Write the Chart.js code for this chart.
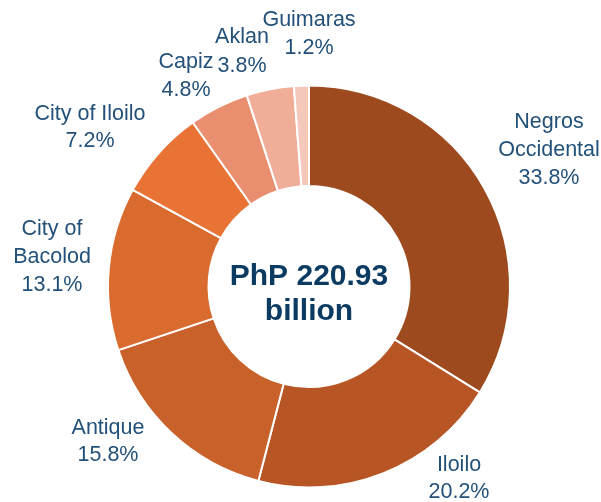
<!DOCTYPE html>
<html>
<head>
<meta charset="utf-8">
<script src="https://cdn.jsdelivr.net/npm/chart.js@4/dist/chart.umd.min.js"></script>
<style>
  html, body { margin: 0; padding: 0; background: #ffffff; }
  #wrap { width: 601px; height: 502px; position: relative; }
</style>
</head>
<body>
<div id="wrap"><canvas id="c" width="601" height="502"></canvas></div>
<script>
// ---- data ----
const categories = ["Negros Occidental", "Iloilo", "Antique", "City of Bacolod", "City of Iloilo", "Capiz", "Aklan", "Guimaras"];
const shares = [33.8, 20.2, 15.8, 13.1, 7.2, 4.8, 3.8, 1.2];
const labelLines = [["Negros", "Occidental"], ["Iloilo"], ["Antique"], ["City of", "Bacolod"], ["City of Iloilo"], ["Capiz"], ["Aklan"], ["Guimaras"]];
const centerText = ["PhP 220.93", "billion"];

// ---- styles / layout ----
const sliceColors = ["#9E4A1F", "#B75624", "#C9612B", "#D96B2E", "#E87335", "#E98F6F", "#F0AD98", "#F5C8BC"];
// label anchors: offset (px) of first text line centre from the doughnut centre
const labelOffsets = [[240, -164], [150, 179], [-201, 142], [-257, -57], [-219, -172], [-123, -224], [-67, -249], [0, -266]];
const lineHeights = [28, 27, 27, 28, 27, 28, 29, 28];

const labelPlugin = {
  id: 'labels',
  afterDraw(chart) {
    const ctx = chart.ctx;
    const arc = chart.getDatasetMeta(0).data[0];
    const cx = arc.x, cy = arc.y;
    ctx.save();
    ctx.textAlign = 'center';
    ctx.textBaseline = 'middle';
    ctx.fillStyle = '#235179';
    ctx.font = '21.5px "Liberation Sans", Arial, sans-serif';
    categories.forEach((c, i) => {
      const lines = labelLines[i].concat([shares[i].toFixed(1) + '%']);
      const [dx, dy] = labelOffsets[i];
      lines.forEach((t, j) => {
        ctx.fillText(t, cx + dx, cy + dy + j * lineHeights[i]);
      });
    });
    ctx.fillStyle = '#0C3B62';
    ctx.font = 'bold 30px "Liberation Sans", Arial, sans-serif';
    ctx.fillText(centerText[0], cx, cy - 10);
    ctx.fillText(centerText[1], cx, cy + 25);
    ctx.restore();
  }
};

new Chart(document.getElementById('c'), {
  type: 'doughnut',
  data: {
    labels: categories,
    datasets: [{
      data: shares,
      backgroundColor: sliceColors,
      borderColor: '#ffffff',
      borderWidth: 2,
      hoverOffset: 0
    }]
  },
  options: {
    responsive: false,
    animation: false,
    cutout: '50%',
    layout: { padding: { left: 107, right: 90, top: 84, bottom: 13 } },
    plugins: {
      legend: { display: false },
      tooltip: { enabled: false }
    }
  },
  plugins: [labelPlugin]
});
</script>
</body>
</html>
